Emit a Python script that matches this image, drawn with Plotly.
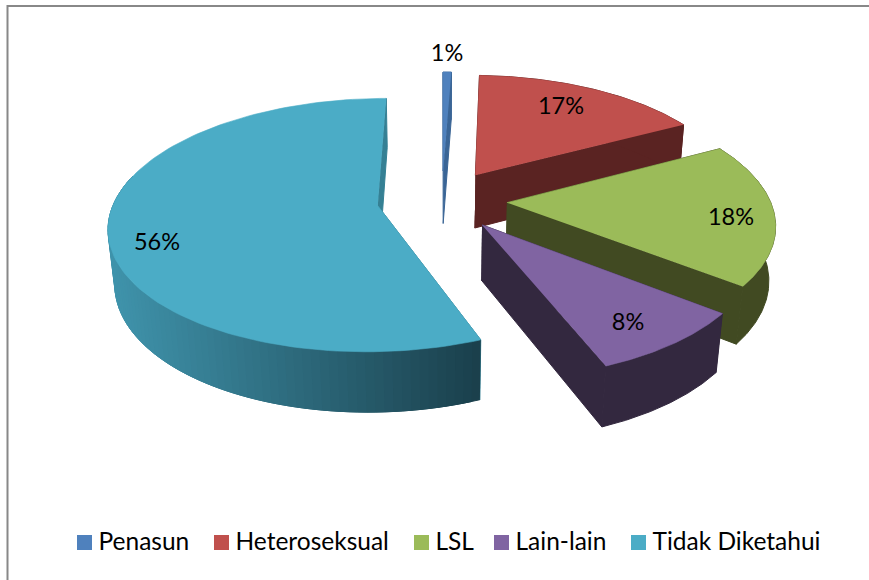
import numpy as np
import plotly.graph_objects as go

categories = ["Penasun", "Heteroseksual", "LSL", "Lain-lain", "Tidak Diketahui"]
values = [0.6, 16.6, 18.4, 8.4, 56.0]
top_colors = ["#4f81bd", "#c0504d", "#9bbb59", "#8064a2", "#4bacc6"]
wall_colors = ["#3a6596", "#5a2322", "#414a22", "#33283f", "#358094"]
gradient_left = np.array([64, 148, 172])
gradient_right = np.array([26, 62, 74])

draw_order = [0, 1, 2, 4, 3]
label_x = [447, 561, 731, 628, 157]
label_y = [55, 108, 219, 324, 244]
legend_x = [84.5, 221.5, 421.5, 501.5, 638.5]
legend_y = 542.5

# projection of the exploded pie onto the page
cx, cy = 442, 200
a, b, h = 263, 122, 55
k, m = 0.152, 0.02
explode = 0.247


def project(X, Y, Z):
    w = 1 / (1 + k * Y + m * Z)
    return cx + a * X * w, cy + (-b * Y + h * Z) * w


def poly(fig, xs, ys, color, width=0.6):
    fig.add_trace(go.Scatter(x=list(xs), y=list(ys), mode="lines", fill="toself",
                             fillcolor=color, line=dict(color=color, width=width),
                             hoverinfo="skip", showlegend=False))


fig = go.Figure()

edges = np.cumsum([0] + values) / sum(values) * 2 * np.pi
for i in draw_order:
    t0, t1 = edges[i], edges[i + 1]
    mid = (t0 + t1) / 2
    ox, oy = explode * np.sin(mid), explode * np.cos(mid)
    t = np.linspace(t0, t1, 121)
    X = ox + np.sin(t)
    Y = oy + np.cos(t)

    # radial walls
    for end in (t0, t1):
        ex, ey = ox + np.sin(end), oy + np.cos(end)
        p = [project(ox, oy, 0), project(ex, ey, 0), project(ex, ey, 1), project(ox, oy, 1)]
        poly(fig, [q[0] for q in p], [q[1] for q in p], wall_colors[i], 1)

    # outer wall, the big slice gets a gradient painted from right to left
    if i == 4:
        front = [j for j in range(120) if np.cos(t[j]) < 0.2]
        order = sorted(front, key=lambda j: -project(X[j], Y[j], 0)[0])
        for j in order:
            xa, ya = project(X[j:j + 3], Y[j:j + 3], 0)
            xb, yb = project(X[j:j + 3], Y[j:j + 3], 1)
            f = np.clip((xa.mean() - 108) / (483 - 108), 0, 1)
            rgb = gradient_left + (gradient_right - gradient_left) * f
            poly(fig, np.r_[xa, xb[::-1]], np.r_[ya, yb[::-1]], "rgb(%d,%d,%d)" % tuple(rgb), 1)
    else:
        xa, ya = project(X, Y, 0)
        xb, yb = project(X, Y, 1)
        poly(fig, np.r_[xa, xb[::-1]], np.r_[ya, yb[::-1]], wall_colors[i], 1)

    # top face
    x0, y0 = project(ox, oy, 0)
    xt, yt = project(X, Y, 0)
    poly(fig, np.r_[x0, xt], np.r_[y0, yt], top_colors[i])

fig.add_trace(go.Scatter(x=label_x, y=label_y, mode="text", text=[f"{v:.0f}%" for v in values],
                         textposition="middle center", hoverinfo="skip", showlegend=False,
                         textfont=dict(family="Lato", size=23.5, color="#000000")))

for name, color, lx in zip(categories, top_colors, legend_x):
    fig.add_trace(go.Scatter(x=[lx], y=[legend_y], mode="markers", hoverinfo="skip", showlegend=False,
                             marker=dict(symbol="square", size=15, color=color)))
    fig.add_trace(go.Scatter(x=[lx + 14], y=[legend_y + 1], mode="text", text=[name],
                             textposition="middle right", hoverinfo="skip", showlegend=False,
                             textfont=dict(family="Lato", size=24.5, color="#000000")))

fig.update_layout(
    width=869, height=580, margin=dict(l=0, r=0, t=0, b=0),
    paper_bgcolor="white", plot_bgcolor="white", showlegend=False,
    xaxis=dict(range=[0, 869], visible=False, fixedrange=True),
    yaxis=dict(range=[580, 0], visible=False, fixedrange=True),
    shapes=[dict(type="rect", x0=7.5, y0=6, x1=880, y1=600, layer="below",
                 line=dict(color="#888888", width=2))],
)
fig.write_html("out.html", config={"displayModeBar": False},
               post_script="document.body.style.margin='0';")
